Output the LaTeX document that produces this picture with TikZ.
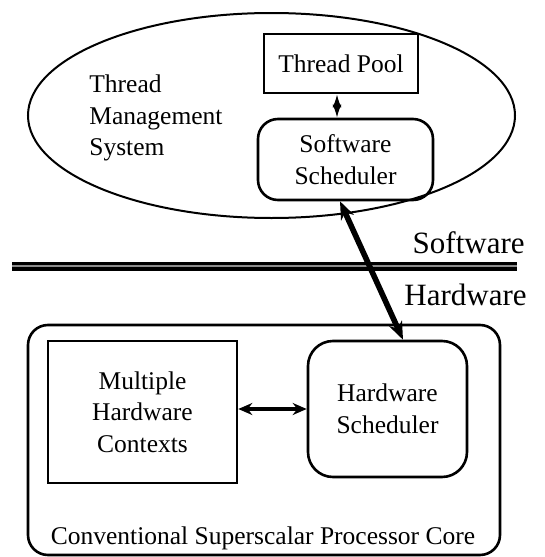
\documentclass[tikz,border=0pt]{standalone}
\usepackage{fontspec}
\setmainfont{Liberation Serif}
\usepackage{xcolor}
\usepackage{tikz}
\usetikzlibrary{calc,arrows.meta,positioning,shapes.geometric}
\definecolor{inkc}{HTML}{000000}
\definecolor{railc}{HTML}{8C8C8C}
\newcommand{\txtsize}{\fontsize{12.75}{15.75}\selectfont}
\newcommand{\bigsize}{\fontsize{15.5}{18}\selectfont}
\tikzset{
  blk/.style={draw=inkc,line width=1.3pt,align=center,inner sep=0pt,font=\txtsize},
  rblk/.style={blk,rounded corners=10pt},
  link/.style={{Stealth[length=7pt,width=6pt]}-{Stealth[length=7pt,width=6pt]},line width=1.6pt,inkc},
  thin link/.style={{Latex[length=6.5pt,width=4.5pt]}-{Latex[length=6.5pt,width=4.5pt]},line width=0.9pt,inkc},
  bus/.style={{Stealth[length=9pt,width=7pt]}-{Stealth[length=9pt,width=7pt]},line width=2.8pt,inkc}
}

\begin{document}
\begin{tikzpicture}[x=0.5pt,y=-0.5pt]
\useasboundingbox (0,0) rectangle (545,557);
% software side
\node[ellipse,draw=inkc,line width=1pt,minimum width=243.5pt,minimum height=102.5pt,inner sep=0pt] (tms) at (271.5,115.5) {};
\node[anchor=west,align=left,inner sep=0pt,font=\txtsize] (tmslbl) at (89,118) {Thread\\Management\\System};
\node[blk,minimum width=77pt,minimum height=29.5pt] (pool) at (341,63.5) {Thread Pool};
\node[rblk,minimum width=87.5pt,minimum height=40.5pt] (swsched) at (345.5,159.5) {Software\\Scheduler};
\draw[thin link] ([xshift=-2pt]pool.south) -- ([xshift=-2pt]pool.south |- swsched.north);
% boundary
\draw[line width=1.6pt,inkc,double=railc,double distance=1.3pt] (12,266) -- (517,266);
\node[anchor=east,inner sep=0pt,font=\bigsize] (swlbl) at (525,243) {Software};
\node[anchor=east,inner sep=0pt,font=\bigsize] (hwlbl) at (527,295) {Hardware};
% hardware side
\node[rblk,minimum width=236pt,minimum height=115pt] (core) at (264,440) {};
\node[blk,minimum width=94.5pt,minimum height=71pt] (ctx) at (142.5,412) {Multiple\\Hardware\\Contexts};
\node[rblk,rounded corners=12.5pt,minimum width=79.5pt,minimum height=68pt] (hwsched) at (387.5,409) {Hardware\\Scheduler};
\node[inner sep=0pt,font=\txtsize] (corelbl) at (263,538) {Conventional Superscalar Processor Core};
\draw[link] (ctx.east |- hwsched.west) -- (hwsched.west);
\draw[bus] ([xshift=-2.75pt]swsched.south) -- ([xshift=7.75pt]hwsched.north);
\end{tikzpicture}
\end{document}
